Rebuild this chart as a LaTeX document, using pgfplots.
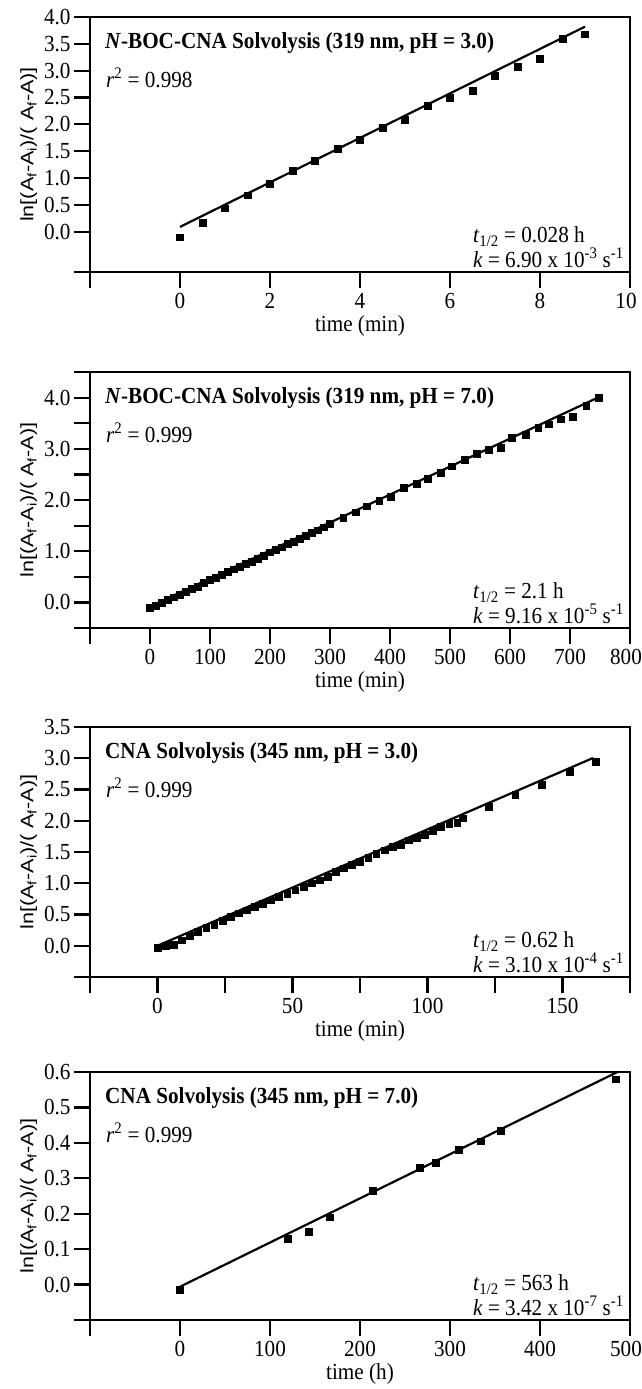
\documentclass[border=0pt]{standalone}
\usepackage{pgfplots}
\usepackage{pgfplotstable}
\pgfplotsset{compat=1.18}
\usepackage{fontspec}
\setmainfont[FakeStretch=0.92]{Liberation Serif}
\newfontfamily\lab[FakeStretch=1.2]{Liberation Sans}

\pgfplotstableread{
x y
0 -0.10
0.5 0.165
1 0.44
1.5 0.68
2 0.90
2.5 1.13
3 1.32
3.5 1.54
4 1.71
4.5 1.94
5 2.08
5.5 2.35
6 2.49
6.5 2.63
7 2.91
7.5 3.08
8 3.22
8.5 3.59
9 3.68
}\dataA

\pgfplotstableread{
x y
0 -0.10
10 -0.06
20 0.00
30 0.05
40 0.10
50 0.15
60 0.21
70 0.26
80 0.31
90 0.38
100 0.44
110 0.48
120 0.54
130 0.60
140 0.65
150 0.70
160 0.75
170 0.80
180 0.85
190 0.92
200 0.98
210 1.03
220 1.08
230 1.14
240 1.19
250 1.24
260 1.30
270 1.36
280 1.41
290 1.47
300 1.53
322 1.66
343 1.76
361 1.88
382 1.98
401 2.07
423 2.24
444 2.32
463 2.42
484 2.53
503 2.66
524 2.78
544 2.91
564 2.98
584 3.02
603 3.22
626 3.28
647 3.41
665 3.48
685 3.58
704 3.63
727 3.84
748 4.00
}\dataB

\pgfplotstableread{
x y
0 -0.03
3 0.00
6 0.02
9 0.09
12 0.16
15 0.23
18 0.29
21 0.34
24 0.40
27 0.46
30 0.52
33 0.57
36 0.62
39 0.67
42 0.73
45 0.78
48 0.83
51 0.89
54 0.95
57 1.00
60 1.05
63 1.10
66 1.18
69 1.24
72 1.30
75 1.35
78 1.41
81 1.47
84 1.53
87 1.58
90 1.62
93 1.69
96 1.73
99 1.78
102 1.84
105 1.90
108 1.95
111 1.97
113 2.04
122.6 2.22
132.5 2.42
142.4 2.58
152.6 2.78
162.2 2.95
}\dataC

\pgfplotstableread{
x y
0 -0.015
120 0.13
143 0.15
166 0.19
214 0.265
266 0.33
284 0.345
310 0.38
334 0.405
356 0.435
484 0.58
}\dataD

\pgfplotsset{
  panel/.style={
    scale only axis, width=540pt, anchor=south west,
    axis line style={line width=2.2pt},
    tick style={line width=2.2pt, black},
    major tick length=16pt, tick align=outside, tick pos=left,
    clip=false,
    font=\fontsize{23}{25}\selectfont,
    ticklabel style={font=\fontsize{23}{25}\selectfont},
    xticklabel style={yshift=-2pt},
    ylabel style={font=\lab\fontsize{18}{20}\selectfont},
    ylabel={ln[(A\textsubscript{f}-A\textsubscript{i})/( A\textsubscript{f}-A)]},
  },
  pts/.style={only marks, mark=square*, mark size=3.4pt, black},
  fit/.style={no marks, black, line width=2.2pt},
}
\newcommand{\ttl}[1]{\node[anchor=west, xshift=15pt, yshift=-26pt, inner sep=0pt, font=\bfseries\fontsize{23}{25}\selectfont] at (rel axis cs:0,1) {#1};}
\newcommand{\rsq}[1]{\node[anchor=west, xshift=16pt, yshift=-61pt, inner sep=0pt] at (rel axis cs:0,1) {\textit{r}\textsuperscript{2} = #1};}
\newcommand{\kin}[2]{\node[anchor=south east, align=left, xshift=-6pt, yshift=4pt, inner sep=0pt, font=\fontsize{23}{21}\selectfont] at (rel axis cs:1,0) {\textit{t}\textsubscript{1/2} = #1\\\textit{k} = #2};}
\newcommand{\lastlab}[1]{\hspace*{-8pt}#1}

\begin{document}
\begin{tikzpicture}
\useasboundingbox (0,0) rectangle (642pt,-1389pt);

\begin{axis}[panel, at={(90pt,-272pt)}, height=255pt,
  xmin=-2, xmax=10, ymin=-0.75, ymax=4.0,
  xtick={-2,0,2,4,6,8,10}, xticklabels={,0,2,4,6,8,\lastlab{10}},
  ytick={-0.75,0,0.5,1,1.5,2,2.5,3,3.5,4},
  yticklabels={,0.0,0.5,1.0,1.5,2.0,2.5,3.0,3.5,4.0},
  xlabel={time (min)}]
\addplot[fit] coordinates {(0,0.09) (9,3.82)};
\addplot[pts] table {\dataA};
\ttl{\textit{N}-BOC-CNA Solvolysis (319 nm, pH = 3.0)}
\rsq{0.998}
\kin{0.028 h}{6.90 x 10\textsuperscript{-3} s\textsuperscript{-1}}
\end{axis}

\begin{axis}[panel, at={(90pt,-628pt)}, height=256pt,
  xmin=-100, xmax=800, ymin=-0.5, ymax=4.5,
  xtick={-100,0,100,200,300,400,500,600,700,800}, xticklabels={,0,100,200,300,400,500,600,700,\lastlab{800}},
  ytick={-0.5,0,0.5,1,1.5,2,2.5,3,3.5,4,4.5},
  yticklabels={,0.0,,1.0,,2.0,,3.0,,4.0,},
  xlabel={time (min)}]
\addplot[fit] coordinates {(0,-0.08) (752,4.03)};
\addplot[pts] table {\dataB};
\ttl{\textit{N}-BOC-CNA Solvolysis (319 nm, pH = 7.0)}
\rsq{0.999}
\kin{2.1 h}{9.16 x 10\textsuperscript{-5} s\textsuperscript{-1}}
\end{axis}

\begin{axis}[panel, at={(90pt,-977pt)}, height=250pt,
  xmin=-25, xmax=175, ymin=-0.5, ymax=3.5,
  xtick={-25,0,25,50,75,100,125,150,175}, xticklabels={,0,,50,,100,,150,},
  ytick={-0.5,0,0.5,1,1.5,2,2.5,3,3.5},
  yticklabels={,0.0,0.5,1.0,1.5,2.0,2.5,3.0,3.5},
  xlabel={time (min)}]
\addplot[fit] coordinates {(0,0.0) (161.4,3.006)};
\addplot[pts] table {\dataC};
\ttl{CNA Solvolysis (345 nm, pH = 3.0)}
\rsq{0.999}
\kin{0.62 h}{3.10 x 10\textsuperscript{-4} s\textsuperscript{-1}}
\end{axis}

\begin{axis}[panel, at={(90pt,-1320pt)}, height=248pt,
  xmin=-100, xmax=500, ymin=-0.1, ymax=0.6,
  xtick={-100,0,100,200,300,400,500}, xticklabels={,0,100,200,300,400,\lastlab{500}},
  ytick={-0.1,0,0.1,0.2,0.3,0.4,0.5,0.6},
  yticklabels={,0.0,0.1,0.2,0.3,0.4,0.5,0.6},
  xlabel={time (h)}]
\addplot[fit] coordinates {(0,-0.006) (486,0.60)};
\addplot[pts] table {\dataD};
\ttl{CNA Solvolysis (345 nm, pH = 7.0)}
\rsq{0.999}
\kin{563 h}{3.42 x 10\textsuperscript{-7} s\textsuperscript{-1}}
\end{axis}
\end{tikzpicture}
\end{document}
